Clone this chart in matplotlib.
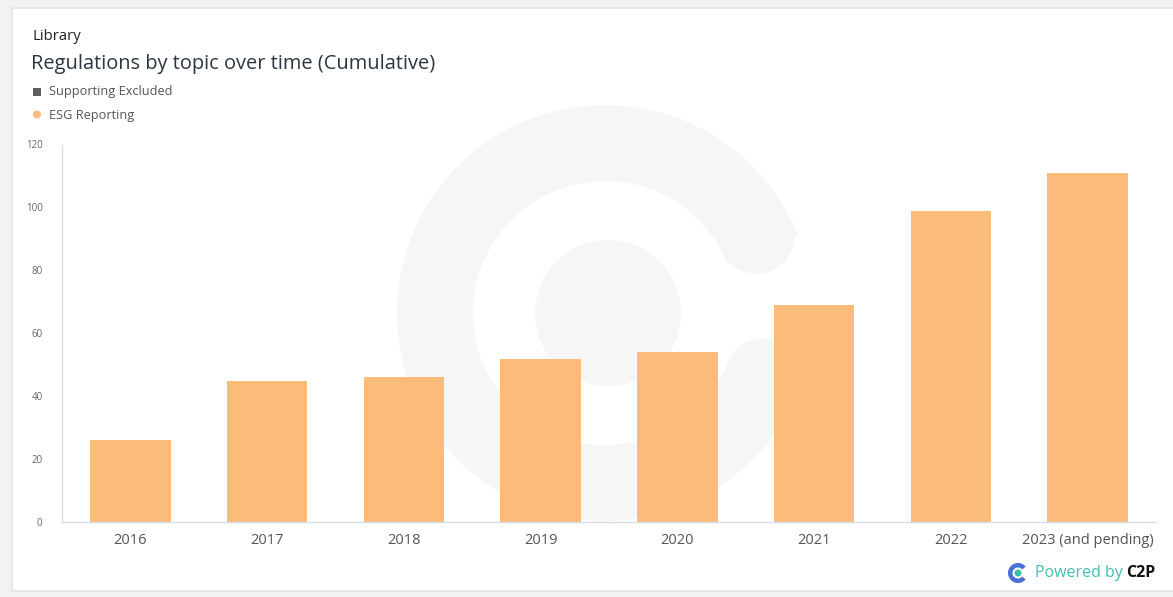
import matplotlib.pyplot as plt
import numpy as np
from matplotlib.patches import Wedge, Circle, Rectangle

# Cumulative ESG reporting regulations per year
years = ['2016', '2017', '2018', '2019', '2020', '2021', '2022', '2023 (and pending)']
esg_reporting = [26, 45, 46, 52, 54, 69, 99, 111]
y_ticks = [0, 20, 40, 60, 80, 100, 120]
legend_labels = ['Supporting Excluded', 'ESG Reporting']

BAR_COLOR = '#fbbb7b'
W, H = 1173, 597

plt.rcParams['font.family'] = ['Open Sans', 'DejaVu Sans']

fig = plt.figure(figsize=(W / 100, H / 100), dpi=100)
fig.patch.set_facecolor('#f1f2f3')

# background layer in pixel coordinates: card + watermark logo
bg = fig.add_axes([0, 0, 1, 1], zorder=0)
bg.set_xlim(0, W)
bg.set_ylim(H, 0)
bg.axis('off')
bg.add_patch(Rectangle((12, 8), W, H - 14, facecolor='white', edgecolor='#e2e4e6', lw=1.2))

wm = '#f6f6f7'
cx, cy = 605, 313
bg.add_patch(Wedge((cx, cy), 208, 27, 338, width=76, facecolor=wm, edgecolor='none'))
for ang in (27, 338):
    a = np.deg2rad(ang)
    r = 208 - 38
    bg.add_patch(Circle((cx + r * np.cos(a), cy - r * np.sin(a)), 38, facecolor=wm, edgecolor='none'))
bg.add_patch(Circle((cx + 3, cy), 73, facecolor=wm, edgecolor='none'))

# header texts
bg.text(32, 36, 'Library', fontsize=10.7, color='#222222', va='center', ha='left')
bg.text(31, 64, 'Regulations by topic over time (Cumulative)', fontsize=14.4,
        color='#2b3640', va='center', ha='left')
bg.add_patch(Rectangle((33, 88), 8, 8, facecolor='#5f5f5f', edgecolor='none'))
bg.text(49, 92, legend_labels[0], fontsize=9.2, color='#555555', va='center', ha='left')
bg.add_patch(Circle((37, 114.5), 4, facecolor=BAR_COLOR, edgecolor='none'))
bg.text(49, 115, legend_labels[1], fontsize=9.2, color='#555555', va='center', ha='left')

# footer branding
bg.add_patch(Wedge((1018, 573), 10, 40, 320, width=4.5, facecolor='#4a6fd6', edgecolor='none'))
bg.add_patch(Circle((1018, 573), 3.5, facecolor='#3bbfa8', edgecolor='none'))
bg.text(1123, 573, 'Powered by', fontsize=11.5, color='#43bfae', va='center', ha='right')
bg.text(1155, 573, 'C2P', fontsize=11.5, color='#111111', va='center', ha='right',
        fontweight='bold')

# main bar chart
left, right, top, bottom = 62, 1156, 144.5, 522.3
ax = fig.add_axes([left / W, 1 - bottom / H, (right - left) / W, (bottom - top) / H], zorder=1)
ax.patch.set_alpha(0)

x = np.arange(len(years))
ax.bar(x, esg_reporting, width=0.59, color=BAR_COLOR, zorder=2)

ax.set_xlim(-0.5, len(years) - 0.5)
ax.set_ylim(0, 120)
ax.set_yticks(y_ticks)
ax.set_yticklabels([str(t) for t in y_ticks], fontsize=7, color='#666666')
ax.set_xticks(x)
ax.set_xticklabels(years, fontsize=10.5, color='#555555')
ax.tick_params(axis='both', length=0)
ax.tick_params(axis='y', pad=14)
ax.tick_params(axis='x', pad=8)

for side in ('top', 'right'):
    ax.spines[side].set_visible(False)
for side in ('left', 'bottom'):
    ax.spines[side].set_color('#d5dce3')
    ax.spines[side].set_linewidth(1)

fig.savefig('out.png', dpi=100)
